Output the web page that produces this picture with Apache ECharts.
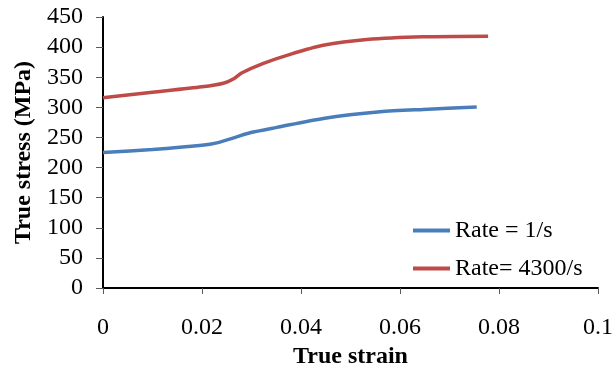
<!DOCTYPE html>
<html><head><meta charset="utf-8">
<script src="https://cdn.jsdelivr.net/npm/echarts@6/dist/echarts.min.js"></script>
<style>html,body{margin:0;padding:0;background:#fff}#c{width:614px;height:370px}</style>
</head><body><div id="c"></div>
<script>
const seriesNames = ['Rate = 1/s', 'Rate= 4300/s'];
const strainSlow = [0, 0.010, 0.020, 0.023, 0.027, 0.0297, 0.0351, 0.0445, 0.056, 0.0647, 0.0755];
const stressSlow = [225, 230, 237, 241, 251, 257.8, 266.7, 281.6, 292.6, 296.5, 300.4];
const strainFast = [0, 0.010, 0.020, 0.0243, 0.0265, 0.028, 0.0324, 0.0378, 0.0445, 0.0533, 0.0647, 0.0778];
const stressFast = [316, 325, 334, 340, 348, 357, 373, 388, 403, 412.5, 417, 418];
const xTicks = [0, 0.02, 0.04, 0.06, 0.08, 0.1];
const yTicks = [0, 50, 100, 150, 200, 250, 300, 350, 400, 450];

const font = 'Liberation Serif';
const chart = echarts.init(document.getElementById('c'));
chart.setOption({
  animation: false,
  grid: {left: 103, right: 16, top: 17, bottom: 82, containLabel: false, outerBoundsMode: 'none'},
  legend: {
    orient: 'vertical', left: 408, top: 212, itemWidth: 37, itemHeight: 4, itemGap: 11,
    icon: 'rect',
    textStyle: {fontFamily: font, fontSize: 24, color: '#000', lineHeight: 27},
    data: [{name: seriesNames[0], itemStyle: {color: '#4A7EBB'}}, {name: seriesNames[1], itemStyle: {color: '#BE4B48'}}]
  },
  xAxis: {
    type: 'value', min: 0, max: 0.1, interval: 0.02,
    name: 'True strain', nameLocation: 'middle', nameGap: 47,
    nameTextStyle: {fontFamily: font, fontSize: 24, fontWeight: 'bold', color: '#000'},
    axisLine: {lineStyle: {color: '#000', width: 2}},
    axisTick: {show: true, inside: false, length: 6, lineStyle: {color: '#595959', width: 1}},
    axisLabel: {fontFamily: font, fontSize: 24, color: '#000', margin: 28,
      formatter: v => xTicks.includes(+v.toFixed(2)) ? String(+v.toFixed(2)) : ''},
    splitLine: {show: false}
  },
  yAxis: {
    type: 'value', min: 0, max: 450, interval: 50,
    name: 'True stress (MPa)', nameLocation: 'middle', nameGap: 66, nameRotate: 90,
    nameTextStyle: {fontFamily: font, fontSize: 24, fontWeight: 'bold', color: '#000'},
    axisLine: {show: true, lineStyle: {color: '#000', width: 2}},
    axisTick: {show: true, length: 7, lineStyle: {color: '#595959', width: 1}},
    axisLabel: {fontFamily: font, fontSize: 24, color: '#000', margin: 20,
      formatter: v => yTicks.includes(v) ? String(v) : ''},
    splitLine: {show: false}
  },
  series: [
    {name: seriesNames[0], type: 'line', symbol: 'none', smooth: 0.25,
     lineStyle: {color: '#4A7EBB', width: 3.5}, itemStyle: {color: '#4A7EBB'},
     data: strainSlow.map((x, i) => [x, stressSlow[i]])},
    {name: seriesNames[1], type: 'line', symbol: 'none', smooth: 0.25,
     lineStyle: {color: '#BE4B48', width: 3.5}, itemStyle: {color: '#BE4B48'},
     data: strainFast.map((x, i) => [x, stressFast[i]])}
  ]
});
</script></body></html>
